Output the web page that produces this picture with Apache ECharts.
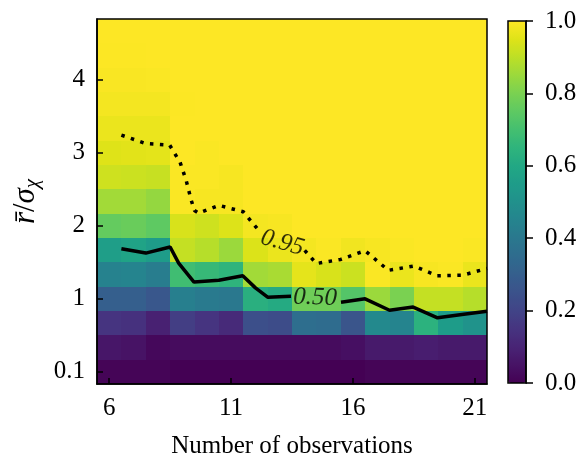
<!DOCTYPE html>
<html>
<head>
<meta charset="utf-8">
<script src="https://cdn.jsdelivr.net/npm/echarts@6/dist/echarts.min.js"></script>
<style>
  html, body { margin: 0; padding: 0; background: #fff; }
  #chart { width: 583px; height: 454px; }
</style>
</head>
<body>
<div id="chart"></div>
<script>
// columns: number of observations
var xObs = [6, 7, 8, 9, 10, 11, 12, 13, 14, 15, 16, 17, 18, 19, 20, 21];
var xTicks = [6, 11, 16, 21];
// rows are plotted by index, only some of them carry a label
var yTickPos = [0, 3, 6, 9, 12];
var yTickLabels = ['0.1', '1', '2', '3', '4'];

// one array per row, bottom row first
var row0  = [0.01, 0.01, 0.01, 0, 0, 0, 0, 0, 0, 0, 0, 0.01, 0.01, 0.01, 0.01, 0.01];
var row1  = [0.06, 0.05, 0.02, 0.03, 0.03, 0.03, 0.03, 0.03, 0.03, 0.03, 0.04, 0.07, 0.07, 0.08, 0.07, 0.07];
var row2  = [0.15, 0.14, 0.09, 0.18, 0.15, 0.12, 0.24, 0.23, 0.36, 0.35, 0.26, 0.47, 0.45, 0.64, 0.55, 0.51];
var row3  = [0.30, 0.30, 0.27, 0.43, 0.41, 0.40, 0.63, 0.61, 0.78, 0.78, 0.73, 0.85, 0.80, 0.91, 0.91, 0.89];
var row4  = [0.44, 0.45, 0.42, 0.69, 0.67, 0.65, 0.86, 0.87, 0.96, 0.94, 0.92, 0.995, 0.97, 0.99, 0.995, 0.97];
var row5  = [0.56, 0.58, 0.55, 0.91, 0.89, 0.85, 0.945, 0.97, 0.985, 0.995, 0.98, 0.99, 0.995, 1, 1, 0.995];
var row6  = [0.76, 0.77, 0.75, 0.94, 0.925, 0.947, 0.985, 0.99, 1, 1, 1, 1, 1, 1, 1, 1];
var row7  = [0.86, 0.86, 0.84, 0.995, 0.99, 0.99, 1, 1, 1, 1, 1, 1, 1, 1, 1, 1];
var row8  = [0.925, 0.92, 0.915, 0.995, 0.995, 0.99, 1, 1, 1, 1, 1, 1, 1, 1, 1, 1];
var row9  = [0.95, 0.955, 0.958, 1, 0.995, 1, 1, 1, 1, 1, 1, 1, 1, 1, 1, 1];
var row10 = [0.97, 0.97, 0.97, 1, 1, 1, 1, 1, 1, 1, 1, 1, 1, 1, 1, 1];
var row11 = [0.985, 0.985, 0.985, 0.998, 1, 1, 1, 1, 1, 1, 1, 1, 1, 1, 1, 1];
var row12 = [0.993, 0.993, 0.995, 1, 1, 1, 1, 1, 1, 1, 1, 1, 1, 1, 1, 1];
var row13 = [0.998, 0.998, 1, 1, 1, 1, 1, 1, 1, 1, 1, 1, 1, 1, 1, 1];
var row14 = [1, 1, 1, 1, 1, 1, 1, 1, 1, 1, 1, 1, 1, 1, 1, 1];
var probRows = [row0, row1, row2, row3, row4, row5, row6, row7, row8, row9, row10, row11, row12, row13, row14];

// contour lines [obs, row], split where the inline label sits
var c95Left  = [[6.5, 9.73], [7.5, 9.38], [8.48, 9.32], [8.91, 8.61], [9.16, 7.86], [9.36, 7.07], [9.5, 6.63], [9.67, 6.52], [10.5, 6.84], [11.5, 6.58], [12.08, 5.88]];
var c95Right = [[14.02, 4.99], [14.5, 4.45], [15.5, 4.62], [16.5, 4.98], [17.45, 4.17], [18.5, 4.35], [19.45, 3.95], [20.5, 3.97], [21.5, 4.25]];
var c50Left  = [[6.5, 5.06], [7.5, 4.88], [8.5, 5.13], [8.85, 4.47], [9.48, 3.69], [10.5, 3.76], [11.48, 3.95], [12.0, 3.45], [12.5, 3.07], [13.46, 3.11]];
var c50Right = [[15.51, 2.86], [16.5, 3.0], [17.5, 2.53], [18.47, 2.66], [19.47, 2.22], [20.47, 2.36], [21.5, 2.49]];
var contourLabelPos = [[13.10, 5.30], [14.45, 3.05]];
var contourLabelText = ['0.95', '0.50'];
var contourLabelRot = [-16, -2];

var viridis = ['#440154', '#471365', '#482475', '#463480', '#414487', '#3b528b', '#355f8d',
  '#2f6c8e', '#2a788e', '#25848e', '#21918c', '#1e9c89', '#22a884', '#2fb47c', '#44bf70',
  '#5ec962', '#7ad151', '#9bd93c', '#bddf26', '#dfe318', '#fde725'];

var serif = 'Liberation Serif';

var cells = [];
probRows.forEach(function (row, r) {
  row.forEach(function (v, c) {
    cells.push([xObs[c], r, v]);
  });
});

var labelItems = contourLabelPos.map(function (p, i) {
  return {
    value: p,
    label: { formatter: contourLabelText[i], rotate: contourLabelRot[i] }
  };
});

// one rect per cell, snapped to whole pixels so neighbours do not leave seams
function renderCell(params, api) {
  var x = api.value(0), y = api.value(1);
  var p0 = api.coord([x - 0.5, y + 0.5]);
  var p1 = api.coord([x + 0.5, y - 0.5]);
  var x0 = Math.round(p0[0]), y0 = Math.round(p0[1]);
  var x1 = Math.round(p1[0]), y1 = Math.round(p1[1]);
  return {
    type: 'rect',
    shape: { x: x0, y: y0, width: x1 - x0, height: y1 - y0 },
    style: { fill: api.visual('color') }
  };
}

var chart = echarts.init(document.getElementById('chart'), null, { renderer: 'canvas' });

var lineBase = { type: 'line', xAxisIndex: 0, yAxisIndex: 0, symbol: 'none', z: 12, silent: true };

chart.setOption({
  animation: false,
  backgroundColor: '#fff',
  textStyle: { fontFamily: serif, color: '#000' },
  grid: [
    { left: 97, top: 19, width: 390, height: 365, outerBoundsMode: 'none', containLabel: false,
      show: true, borderColor: '#000', borderWidth: 1.5, z: 10 },
    { left: 508, top: 21, width: 18, height: 362, outerBoundsMode: 'none', containLabel: false,
      show: true, borderColor: '#000', borderWidth: 1.5, z: 10 }
  ],
  xAxis: [{
    type: 'value', gridIndex: 0, min: 5.5, max: 21.5, z: 10,
    name: 'Number of observations', nameLocation: 'middle', nameGap: 50,
    nameTextStyle: { fontFamily: serif, fontSize: 25, color: '#000' },
    axisLine: { onZero: false, lineStyle: { color: '#000', width: 1.5 } },
    axisTick: { inside: true, length: 6, lineStyle: { color: '#000', width: 1.5 }, customValues: xTicks },
    axisLabel: { customValues: xTicks, fontFamily: serif, fontSize: 25, color: '#000', margin: 12 },
    splitLine: { show: false }
  }, {
    type: 'value', gridIndex: 1, min: 0, max: 1, show: false
  }],
  yAxis: [{
    type: 'value', gridIndex: 0, min: -0.5, max: 14.5, z: 10,
    name: '{i|r\u0304}{n|/}{i|σ}{s|χ}', nameLocation: 'middle', nameGap: 39, nameRotate: 90,
    nameTextStyle: {
      color: '#000',
      rich: {
        i: { fontFamily: serif, fontStyle: 'italic', fontSize: 31, lineHeight: 34, color: '#000' },
        n: { fontFamily: serif, fontSize: 31, lineHeight: 34, color: '#000' },
        s: { fontFamily: serif, fontStyle: 'italic', fontSize: 21, lineHeight: 21, verticalAlign: 'bottom', color: '#000' }
      }
    },
    axisLine: { onZero: false, lineStyle: { color: '#000', width: 1.5 } },
    axisTick: { inside: true, length: 6, lineStyle: { color: '#000', width: 1.5 }, customValues: yTickPos },
    axisLabel: {
      customValues: yTickPos, fontFamily: serif, fontSize: 25, color: '#000', margin: 12,
      formatter: function (v) { return yTickLabels[yTickPos.indexOf(Math.round(v))]; }
    },
    splitLine: { show: false }
  }, {
    type: 'value', gridIndex: 1, min: 0, max: 1, interval: 0.2, position: 'right', z: 10,
    axisLine: { show: true, onZero: false, lineStyle: { color: '#000', width: 1.5 } },
    axisTick: { show: true, length: 7, lineStyle: { color: '#000', width: 1.5 } },
    axisLabel: { fontFamily: serif, fontSize: 25, color: '#000', margin: 19, formatter: function (v) { return v.toFixed(1); } },
    splitLine: { show: false }
  }],
  visualMap: {
    type: 'continuous', min: 0, max: 1, dimension: 2, seriesIndex: 0,
    inRange: { color: viridis },
    show: true, calculable: false, hoverLink: false,
    left: 508, top: 21, itemWidth: 18, itemHeight: 362, padding: 0, z: 5
  },
  series: [{
    type: 'custom', xAxisIndex: 0, yAxisIndex: 0, renderItem: renderCell,
    data: cells, encode: { x: 0, y: 1 }, clip: true, silent: true, z: 2
  },
  Object.assign({}, lineBase, { data: c95Left, lineStyle: { color: '#000', width: 3.5, type: [3.5, 6.5] } }),
  Object.assign({}, lineBase, { data: c95Right, lineStyle: { color: '#000', width: 3.5, type: [3.5, 6.5] } }),
  Object.assign({}, lineBase, { data: c50Left, lineStyle: { color: '#000', width: 3.5 } }),
  Object.assign({}, lineBase, { data: c50Right, lineStyle: { color: '#000', width: 3.5 } }),
  {
    type: 'scatter', xAxisIndex: 0, yAxisIndex: 0, symbolSize: 1, silent: true, z: 13,
    itemStyle: { color: 'transparent' },
    label: { show: true, position: 'inside', fontFamily: serif, fontStyle: 'italic', fontSize: 25, color: '#000' },
    data: labelItems
  }]
});
</script>
</body>
</html>
